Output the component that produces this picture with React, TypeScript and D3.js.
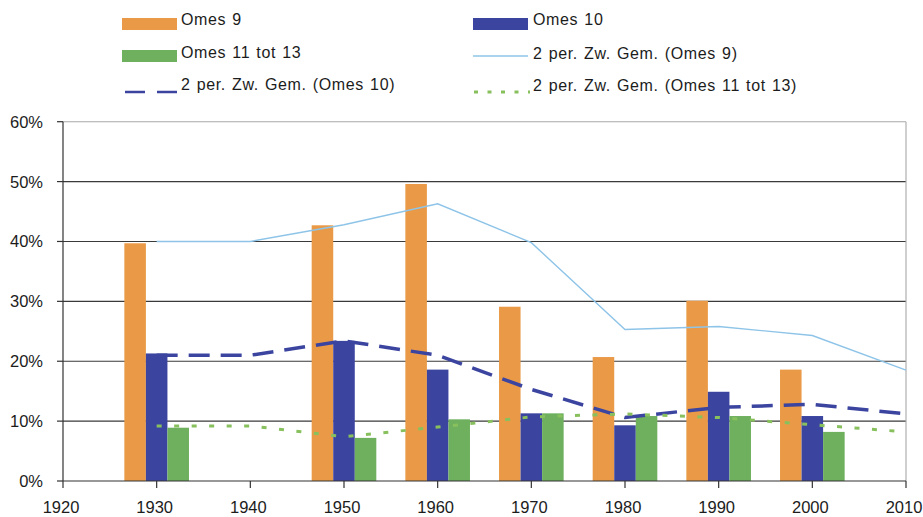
import React from "react";
import * as d3 from "d3";

const years = [1930, 1940, 1950, 1960, 1970, 1980, 1990, 2000];
const omes9: (number | null)[] = [39.7, null, 42.7, 49.6, 29.1, 20.7, 30.1, 18.6];
const omes10: (number | null)[] = [21.3, null, 23.4, 18.6, 11.3, 9.3, 14.9, 10.85];
const omes11: (number | null)[] = [8.9, null, 7.2, 10.3, 11.3, 10.85, 10.85, 8.2];

const maYears = [1930, 1940, 1950, 1960, 1970, 1980, 1990, 2000, 2010];
const ma9 = [40, 40, 42.8, 46.3, 39.8, 25.3, 25.8, 24.3, 18.5];
const ma10 = [21.0, 21.0, 23.4, 21.0, 15.3, 10.6, 12.3, 12.8, 11.2];
const ma11 = [9.2, 9.2, 7.4, 9.0, 10.7, 11.2, 10.6, 9.4, 8.2];

const xTicks = [1920, 1930, 1940, 1950, 1960, 1970, 1980, 1990, 2000, 2010];
const yTicks = [0, 10, 20, 30, 40, 50, 60];

const C_OR = "#EA9A47";
const C_BL = "#3B45A0";
const C_GR = "#6FB05E";
const C_LB = "#8EC4E8";
const C_DOT = "#88C05E";
const FONT = "'Liberation Sans', Arial, sans-serif";
const TXT = "#1c1c1c";

export default function App() {
  const W = 923, H = 517;
  const L = 63, R = 906, T = 121.7, B = 481;
  const x = d3.scaleLinear().domain([1920, 2010]).range([L, R]);
  const y = d3.scaleLinear().domain([0, 60]).range([B, T]);
  const bw = x(1932.3) - x(1930);

  const line = d3
    .line<number>()
    .x((_, i) => x(maYears[i]))
    .y((d) => y(d));

  const bars: { v: number | null; off: number; c: string }[][] = years.map((_, i) => [
    { v: omes9[i], off: -1.5, c: C_OR },
    { v: omes10[i], off: -0.5, c: C_BL },
    { v: omes11[i], off: 0.5, c: C_GR },
  ]);

  const legendText = { fontFamily: FONT, fontSize: 16, fill: TXT, letterSpacing: 0.65, wordSpacing: 1 } as any;

  return (
    <div style={{ position: "fixed", left: 0, top: 0, width: W, height: H, background: "#fff" }}>
      <svg width={W} height={H} style={{ display: "block" }}>
        <rect x={0} y={0} width={W} height={H} fill="#fff" />
        {/* gridlines */}
        {yTicks.filter((t) => t > 0 && t < 60).map((t) => (
          <line key={t} x1={L} x2={R} y1={y(t)} y2={y(t)} stroke="#3a3a3a" strokeWidth={1.1} />
        ))}
        <line x1={L} x2={R} y1={y(60)} y2={y(60)} stroke="#a8a8a8" strokeWidth={1.1} />
        <line x1={R} x2={R} y1={y(60)} y2={B} stroke="#a8a8a8" strokeWidth={1.1} />

        {/* bars */}
        {years.map((yr, i) =>
          bars[i].map((b, j) =>
            b.v == null ? null : (
              <rect
                key={`${yr}-${j}`}
                x={x(yr) + b.off * bw}
                y={y(b.v)}
                width={bw}
                height={y(0) - y(b.v)}
                fill={b.c}
              />
            )
          )
        )}

        {/* moving averages */}
        <path d={line(ma9) || ""} fill="none" stroke={C_LB} strokeWidth={1.4} />
        <path d={line(ma10) || ""} fill="none" stroke={C_BL} strokeWidth={3.5} strokeDasharray="21 11" />
        <path d={line(ma11) || ""} fill="none" stroke={C_DOT} strokeWidth={3} strokeDasharray="5 12.5" />

        {/* axes */}
        <line x1={L} x2={L} y1={T} y2={B} stroke="#333" strokeWidth={1.2} />
        <line x1={L} x2={R} y1={B} y2={B} stroke="#333" strokeWidth={1.2} />
        {yTicks.map((t) => (
          <g key={`yt${t}`}>
            <line x1={L - 6} x2={L} y1={y(t)} y2={y(t)} stroke="#333" strokeWidth={1.2} />
            <text x={43} y={y(t)} dy="0.36em" textAnchor="end" fontFamily={FONT} fontSize={16.5} fill={TXT}>
              {`${t}%`}
            </text>
          </g>
        ))}
        {xTicks.map((t) => (
          <g key={`xt${t}`}>
            <line x1={x(t)} x2={x(t)} y1={B} y2={B + 7} stroke="#333" strokeWidth={1.2} />
            <text x={x(t) - 2} y={513} textAnchor="middle" fontFamily={FONT} fontSize={16.5} fill={TXT}>
              {t}
            </text>
          </g>
        ))}

        {/* legend */}
        <rect x={122} y={18} width={55} height={12} fill={C_OR} />
        <text x={181} y={25} {...legendText}>Omes 9</text>
        <rect x={473} y={18} width={55} height={12} fill={C_BL} />
        <text x={533} y={25} {...legendText}>Omes 10</text>

        <rect x={122} y={50} width={55} height={12} fill={C_GR} />
        <text x={181} y={58} {...legendText}>Omes 11 tot 13</text>
        <line x1={473} x2={528} y1={56} y2={56} stroke={C_LB} strokeWidth={1.4} />
        <text x={533} y={59} {...legendText}>2 per. Zw. Gem. (Omes 9)</text>

        <line x1={125} x2={177} y1={92} y2={92} stroke={C_BL} strokeWidth={2.5} strokeDasharray="20 12" />
        <text x={181} y={90} {...legendText}>2 per. Zw. Gem. (Omes 10)</text>
        <line x1={474} x2={530} y1={92} y2={92} stroke={C_DOT} strokeWidth={3} strokeDasharray="4 9.5" />
        <text x={533} y={91} {...legendText}>2 per. Zw. Gem. (Omes 11 tot 13)</text>
      </svg>
    </div>
  );
}
